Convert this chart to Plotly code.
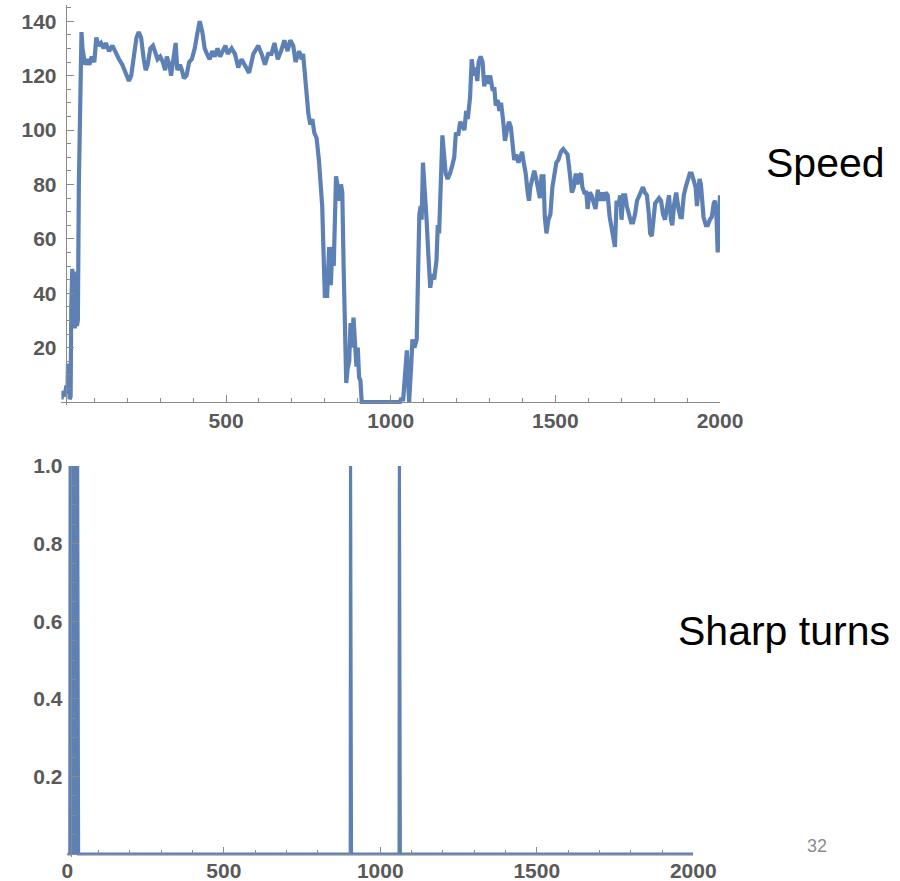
import plotly.graph_objects as go

# ---------------- data ----------------
speed_x = [0, 5, 10, 15, 18, 20, 23, 25, 28, 30, 33, 36, 38, 41, 44, 47, 50, 53, 57, 61, 64, 68, 72, 78, 85, 92,
           100, 106, 112, 120, 128, 135, 145, 155, 165, 175, 185, 195, 205, 212, 220, 228, 235, 242, 250, 256, 262,
           270, 278, 285, 292, 300, 308, 315, 320, 328, 333, 340, 347, 352, 360, 366, 372, 380, 388, 396, 405, 412,
           420, 428, 435, 442, 450, 458, 466, 474, 482, 490, 498,
           505, 517, 527, 537, 547, 557, 570, 583, 598, 608, 618, 628, 638, 647, 657, 667, 677, 687, 695, 704, 711,
           722, 730, 734, 740, 744, 750, 756, 762, 768, 775, 782, 788, 792, 796, 800, 807, 813, 818, 823, 827, 834,
           839, 843, 849, 853, 857, 861, 865, 869, 874, 878, 882, 887, 892, 896, 900, 904, 908, 912, 1028,
           1031, 1038, 1045, 1049, 1053, 1056, 1062, 1066, 1072, 1079, 1084, 1087, 1091, 1094, 1098, 1102, 1109,
           1114, 1120, 1126, 1132, 1139, 1143, 1147, 1151, 1157, 1162, 1167, 1173, 1180, 1187, 1193, 1198, 1205,
           1211, 1218, 1224, 1229, 1234, 1241, 1246, 1252, 1258, 1263, 1267, 1273, 1279, 1284, 1290, 1296, 1302,
           1309, 1315, 1319, 1325, 1330, 1335, 1341, 1347, 1353, 1359, 1365, 1370, 1375, 1381, 1388, 1394, 1399,
           1404, 1410, 1416, 1420, 1424, 1430, 1436, 1442, 1448, 1453, 1458, 1464, 1468, 1473, 1479, 1485, 1491,
           1497, 1503,
           1509, 1517, 1524, 1531, 1537, 1544, 1550, 1556, 1562, 1567, 1572, 1578, 1582, 1588, 1594, 1598, 1604,
           1610, 1616, 1622, 1629, 1635, 1641, 1647, 1653, 1659, 1665, 1671, 1677, 1681, 1686, 1691, 1697, 1701,
           1706, 1712, 1717, 1724, 1730, 1736, 1742, 1748, 1754, 1760, 1766, 1772, 1778, 1784, 1788, 1793, 1798,
           1803, 1809, 1815, 1821, 1827, 1833, 1839, 1845, 1851, 1855, 1861, 1867, 1874, 1880, 1884, 1890, 1896,
           1902, 1908, 1914, 1920, 1926, 1930, 1934, 1938, 1942, 1946, 1950, 1957, 1963, 1969, 1975, 1981, 1985,
           1989, 1993, 1997, 2000]

speed_y = [1, 4, 2, 6, 3, 14, 13, 1, 2, 35, 49, 30, 48, 27, 45, 28, 30, 80, 110, 136, 130, 126, 124, 126, 124, 127,
           125, 134, 131, 132, 130, 132, 129, 131, 128, 126, 124, 121, 118, 120, 128, 134, 136, 134, 126, 122, 124,
           130, 131, 128, 126, 127, 125, 122, 127, 124, 120, 126, 132, 122, 124, 122, 119, 120, 125, 126, 130, 135,
           140, 136, 130, 128, 126, 129, 127, 130, 127, 129, 131,
           128, 130, 128, 123, 126, 124, 121, 128, 131, 128, 124, 128, 128, 132, 126, 129, 133, 129, 133, 131, 125,
           129, 126, 128, 118, 111, 106, 102, 104, 99, 97, 89, 80, 72, 55, 39, 39, 57, 43, 57, 50, 83,
           79, 74, 80, 77, 50, 25, 7, 12, 15, 29, 20, 31, 19, 13, 20, 9, 8, 0, 0,
           1, 1, 13, 19, 7, 0, 13, 23, 20, 23, 52, 69, 72, 67, 88, 82, 67,
           55, 42, 47, 45, 52, 65, 62, 74, 98, 91, 84, 82, 84, 87, 90, 99, 98,
           103, 101, 100, 107, 104, 112, 126, 120, 123, 118, 125, 127, 125, 116, 120, 117, 120,
           115, 115, 109, 111, 107, 110, 104, 96, 100, 103, 101, 95, 89, 91, 88, 90, 92,
           88, 84, 77, 74, 79, 83, 85, 82, 77, 75, 83, 83, 68, 62, 67, 69, 79,
           84, 88,
           89, 92, 93, 92, 91, 84, 77, 79, 84, 80, 83, 84, 79, 77, 77, 71, 77,
           76, 74, 71, 78, 74, 77, 74, 77, 76, 68, 63, 58, 57, 74, 72, 76, 67,
           76, 76, 72, 68, 66, 66, 69, 74, 76, 77, 79, 77, 76, 69, 62, 61, 69,
           73, 74, 75, 74, 69, 67, 72, 76, 67, 65, 73, 77, 71, 68, 68, 76, 79,
           81, 84, 84, 82, 79, 72, 77, 82, 80, 74, 68, 65, 65, 67, 68, 73, 74,
           69, 55, 65, 76]

# time steps flagged as sharp turns
turn_steps = [9, 11, 13, 15, 17, 19, 21, 23, 25, 27, 29, 31, 33, 905, 1061]
n_steps = 2000

speed_yticks = [20, 40, 60, 80, 100, 120, 140]
turn_yticks = [0.2, 0.4, 0.6, 0.8, 1.0]
turn_ytick_text = ["0.2", "0.4", "0.6", "0.8", "1.0"]
speed_xticks = [500, 1000, 1500, 2000]
turn_xticks = [0, 500, 1000, 1500, 2000]

# build the 0/1 turn series from the flagged steps
turn_set = set(turn_steps)
turn_x = list(range(0, n_steps + 1))
turn_y = [1 if i in turn_set else 0 for i in turn_x]

# ---------------- styling ----------------
W, H = 900, 881
LINE = "#5E81B5"
AX = "#8a8a8a"
LBL = "#595959"
FONT = "Liberation Sans, Arial, sans-serif"


def px_x(p):
    return p / W


def px_y(p):
    return 1 - p / H


fig = go.Figure()
fig.add_trace(go.Scatter(x=speed_x, y=speed_y, mode="lines",
                         line=dict(color=LINE, width=4.2), xaxis="x", yaxis="y",
                         showlegend=False, hoverinfo="skip"))
fig.add_trace(go.Scatter(x=turn_x, y=turn_y, mode="lines",
                         line=dict(color=LINE, width=3.2), xaxis="x2", yaxis="y2",
                         showlegend=False, hoverinfo="skip"))

tick_font = dict(family=FONT, size=21, color=LBL, weight="bold")

# top panel geometry (pixels)
t_x0, t_x1 = 61.4, 720.0      # x = 0 .. 2000
t_y0, t_yr0 = 402.0, 2.72     # y = 0 pixel, px per unit
t_ymin, t_ymax = -1.2, 146
# bottom panel
b_x0, b_x1 = 67.3, 693.3
b_y0, b_y1 = 854.0, 466.0
b_ymin = -0.008
b_unit = (b_y0 - b_y1)

axis_common = dict(showgrid=False, zeroline=False, showline=True, linecolor=AX, linewidth=1,
                   ticks="inside", tickcolor=AX, tickwidth=1, ticklen=7, tickfont=tick_font)

fig.update_layout(
    width=W, height=H, margin=dict(l=0, r=0, t=0, b=0, autoexpand=False),
    paper_bgcolor="white", plot_bgcolor="white", showlegend=False,
    xaxis=dict(domain=[px_x(t_x0), px_x(t_x1)], range=[0, 2000], anchor="free",
               position=px_y(t_y0), tickmode="array", tickvals=speed_xticks,
               minor=dict(dtick=100, tick0=0, ticklen=4, ticks="inside", tickcolor=AX),
               ticklabelstandoff=0, **axis_common),
    yaxis=dict(domain=[px_y(t_y0 - t_ymin * t_yr0), px_y(t_y0 - t_ymax * t_yr0)],
               range=[t_ymin, t_ymax], anchor="free", position=px_x(65.7),
               tickmode="array", tickvals=speed_yticks,
               minor=dict(dtick=5, tick0=0, ticklen=4, ticks="inside", tickcolor=AX),
               ticklabelstandoff=5, **axis_common),
    xaxis2=dict(domain=[px_x(b_x0), px_x(b_x1)], range=[0, 2000], anchor="free",
                position=px_y(b_y0), tickmode="array", tickvals=turn_xticks,
                minor=dict(dtick=100, tick0=0, ticklen=4, ticks="inside", tickcolor=AX),
                ticklabelstandoff=-2, **axis_common),
    yaxis2=dict(domain=[px_y(b_y0 - b_ymin * b_unit), px_y(b_y1)],
                range=[b_ymin, 1.0], anchor="free", position=px_x(70.7),
                tickmode="array", tickvals=turn_yticks, ticktext=turn_ytick_text,
                minor=dict(dtick=0.05, tick0=0, ticklen=4, ticks="inside", tickcolor=AX),
                ticklabelstandoff=4, **axis_common),
)

fig.add_annotation(text="Speed", xref="paper", yref="paper", x=px_x(825.5), y=px_y(162.5),
                   xanchor="center", yanchor="middle", showarrow=False,
                   font=dict(family=FONT, size=41, color="black"))
fig.add_annotation(text="Sharp turns", xref="paper", yref="paper", x=px_x(783.5), y=px_y(630.5),
                   xanchor="center", yanchor="middle", showarrow=False,
                   font=dict(family=FONT, size=41, color="black"))
fig.add_annotation(text="32", xref="paper", yref="paper", x=px_x(816.7), y=px_y(845.5),
                   xanchor="center", yanchor="middle", showarrow=False,
                   font=dict(family=FONT, size=18, color="#8c8c8c"))

fig.write_html("out.html", config={"displayModeBar": False},
               post_script="document.body.style.margin='0';document.body.style.overflow='hidden';")
